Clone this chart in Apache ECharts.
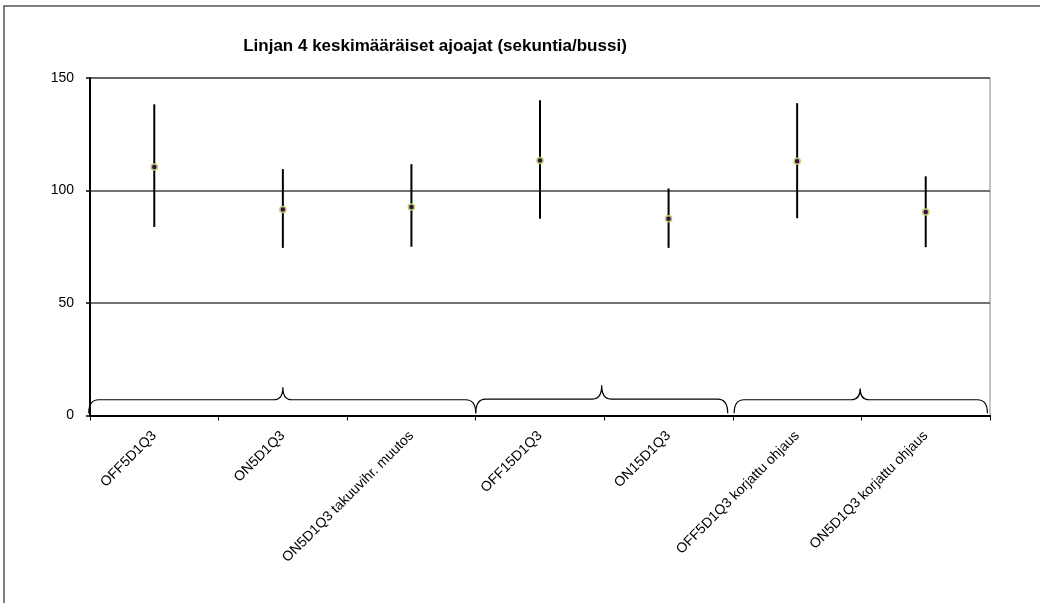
<!DOCTYPE html>
<html><head><meta charset="utf-8">
<script src="https://cdn.jsdelivr.net/npm/echarts@6/dist/echarts.min.js"></script>
<style>html,body{margin:0;padding:0;background:#fff}#c{width:1040px;height:603px}</style>
</head><body><div id="c"></div>
<script>
var categories = ['OFF5D1Q3','ON5D1Q3','ON5D1Q3 takuuvihr. muutos','OFF15D1Q3','ON15D1Q3','OFF5D1Q3 korjattu ohjaus','ON5D1Q3 korjattu ohjaus'];
var meanValues = [110.5, 91.6, 92.7, 113.3, 87.4, 113.0, 90.4];
var highValues = [138.3, 109.5, 111.7, 140.1, 100.9, 138.8, 106.3];
var lowValues  = [83.8, 74.5, 75.0, 87.4, 74.5, 87.7, 74.8];
var yTicks = [0, 50, 100, 150];
// braces: [startCat, endCat, peakCat, baseValue, peakValue]
var braces = [
  [-0.51, 2.5, 1.0, 7.0, 12.6],
  [2.5, 4.46, 3.48, 7.3, 13.4],
  [4.51, 6.48, 5.49, 7.0, 12.0]
];

var chart = echarts.init(document.getElementById('c'));
var font = 'Liberation Sans, Arial, sans-serif';
chart.setOption({
  animation: false,
  title: {
    text: 'Linjan 4 keskimääräiset ajoajat (sekuntia/bussi)',
    left: 430, top: 33, textAlign: 'center',
    textStyle: {fontFamily: font, fontSize: 17, fontWeight: 'bold', color: '#000'}
  },
  graphic: [{
    type: 'rect', shape: {x: 4, y: 6, width: 1100, height: 700},
    style: {fill: 'none', stroke: '#555', lineWidth: 1.5}, silent: true, z: -1
  }],
  grid: {left: 90, right: 50, top: 78, bottom: 187.5, show: true, borderColor: '#888', borderWidth: 1, backgroundColor: 'transparent'},
  xAxis: {
    type: 'category', data: categories, boundaryGap: true,
    axisLine: {lineStyle: {color: '#000', width: 2}},
    axisTick: {show: true, length: 5, lineStyle: {color: '#000', width: 1}},
    axisLabel: {rotate: 45, margin: 18, fontFamily: font, fontSize: 14, color: '#000', interval: 0}
  },
  yAxis: {
    type: 'value', min: yTicks[0], max: yTicks[yTicks.length - 1], interval: 50,
    axisLine: {show: true, lineStyle: {color: '#000', width: 2}},
    axisTick: {show: true, length: 4, lineStyle: {color: '#000', width: 1.5}},
    axisLabel: {fontFamily: font, fontSize: 14, color: '#000', margin: 16},
    splitLine: {show: true, lineStyle: {color: '#444', width: 1.5}}
  },
  series: [{
    type: 'custom',
    data: categories.map(function (c, i) { return [i, lowValues[i], highValues[i]]; }),
    renderItem: function (params, api) {
      var lo = api.coord([api.value(0), api.value(1)]);
      var hi = api.coord([api.value(0), api.value(2)]);
      return {type: 'line', shape: {x1: lo[0], y1: lo[1], x2: hi[0], y2: hi[1]},
        style: {stroke: '#000', lineWidth: 2}};
    },
    z: 2
  }, {
    type: 'scatter',
    data: meanValues.map(function (v, i) { return [i, v]; }),
    symbol: 'circle', symbolSize: 6,
    itemStyle: {color: '#3a0a4a', borderColor: '#b4cc6a', borderWidth: 1.5, opacity: 1},
    z: 3
  }, {
    type: 'custom',
    data: braces,
    renderItem: function (params, api) {
      var p0 = api.coord([0, 0]), p1 = api.coord([1, 0]);
      var bw = p1[0] - p0[0];
      function X(f) { return p0[0] + f * bw; }
      var yEnd = api.coord([0, 1])[1];
      var yBase = api.coord([0, api.value(3)])[1];
      var yPeak = api.coord([0, api.value(4)])[1];
      var xa = X(api.value(0)), xb = X(api.value(1)), xp = X(api.value(2));
      var r = 10, rp = 9;
      var d = 'M' + xa + ',' + yEnd +
        ' Q' + xa + ',' + yBase + ' ' + (xa + r) + ',' + yBase +
        ' L' + (xp - rp) + ',' + yBase +
        ' Q' + xp + ',' + yBase + ' ' + xp + ',' + yPeak +
        ' Q' + xp + ',' + yBase + ' ' + (xp + rp) + ',' + yBase +
        ' L' + (xb - r) + ',' + yBase +
        ' Q' + xb + ',' + yBase + ' ' + xb + ',' + yEnd;
      return {type: 'path', shape: {pathData: d}, style: {fill: 'none', stroke: '#000', lineWidth: 1.2}};
    },
    z: 2
  }]
});
</script></body></html>
